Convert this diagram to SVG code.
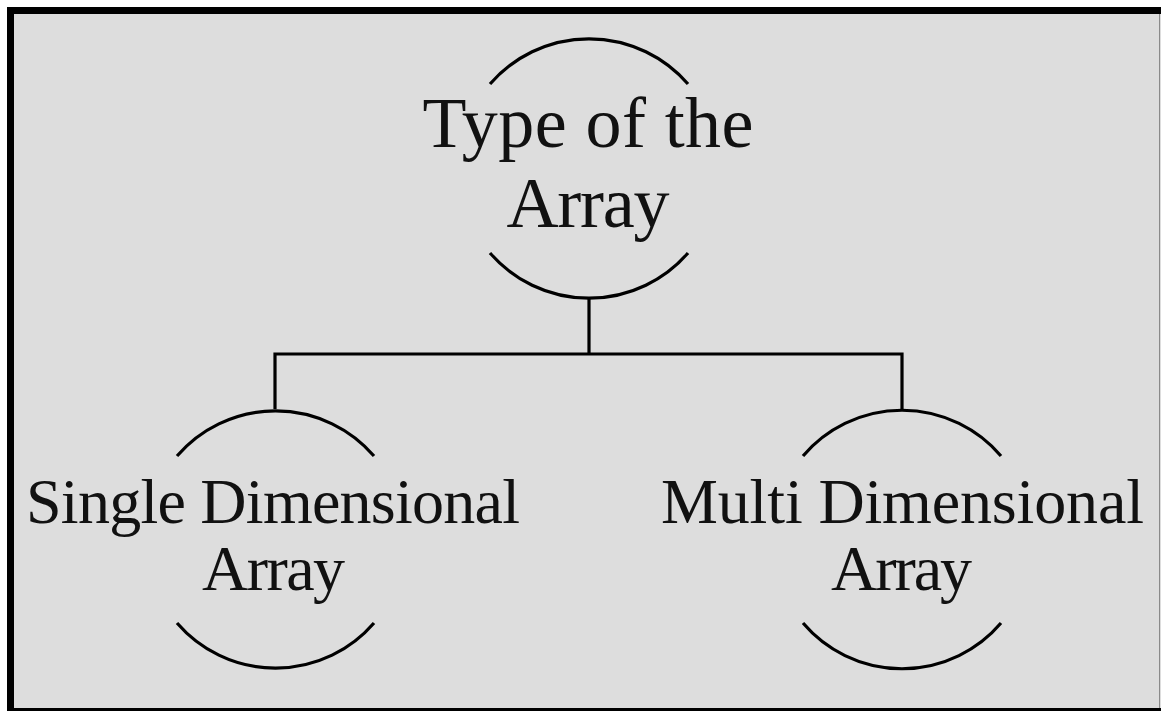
<svg xmlns="http://www.w3.org/2000/svg" width="1161" height="711" viewBox="0 0 1161 711">
<style>
.arc{fill:none;stroke:#000;stroke-width:3.2;stroke-linecap:butt}
.conn{fill:none;stroke:#000;stroke-width:3.2}
.lbl{font-family:"Liberation Serif","Times New Roman",serif;fill:#111;text-anchor:middle}
.big{font-size:72px}
.sm{font-size:64px}
</style>
<rect x="0" y="0" width="1161" height="711" fill="#ffffff"/>
<rect x="10.5" y="10.5" width="1165" height="701" fill="#dddddd" stroke="#000" stroke-width="7"/>
<line x1="1159.5" y1="14" x2="1159.5" y2="708" stroke="#8a8a8a" stroke-width="1"/>
<g id="connectors">
<path class="conn" d="M589 298 V354 M275 354 H902 M275 352.4 V409 M902 352.4 V409"/>
</g>
<g id="node-root">
<path class="arc" d="M490 84 A131 131 0 0 1 688 84"/>
<path class="arc" d="M490 253 A131 131 0 0 0 688 253"/>
<text class="lbl big" x="588" y="147" textLength="331" lengthAdjust="spacing">Type of the</text>
<text class="lbl big" x="588" y="227" textLength="163" lengthAdjust="spacing">Array</text>
</g>
<g id="node-single">
<path class="arc" d="M177 456 A130 130 0 0 1 374 456"/>
<path class="arc" d="M177 623 A130 130 0 0 0 374 623"/>
<text class="lbl sm" x="273" y="523" textLength="494" lengthAdjust="spacing">Single Dimensional</text>
<text class="lbl sm" x="273.5" y="590" textLength="143" lengthAdjust="spacing">Array</text>
</g>
<g id="node-multi">
<path class="arc" d="M803 456 A130 130 0 0 1 1001 456"/>
<path class="arc" d="M803 623 A130 130 0 0 0 1001 623"/>
<text class="lbl sm" x="902.5" y="523" textLength="483" lengthAdjust="spacing">Multi Dimensional</text>
<text class="lbl sm" x="901.5" y="590" textLength="141" lengthAdjust="spacing">Array</text>
</g>
</svg>
